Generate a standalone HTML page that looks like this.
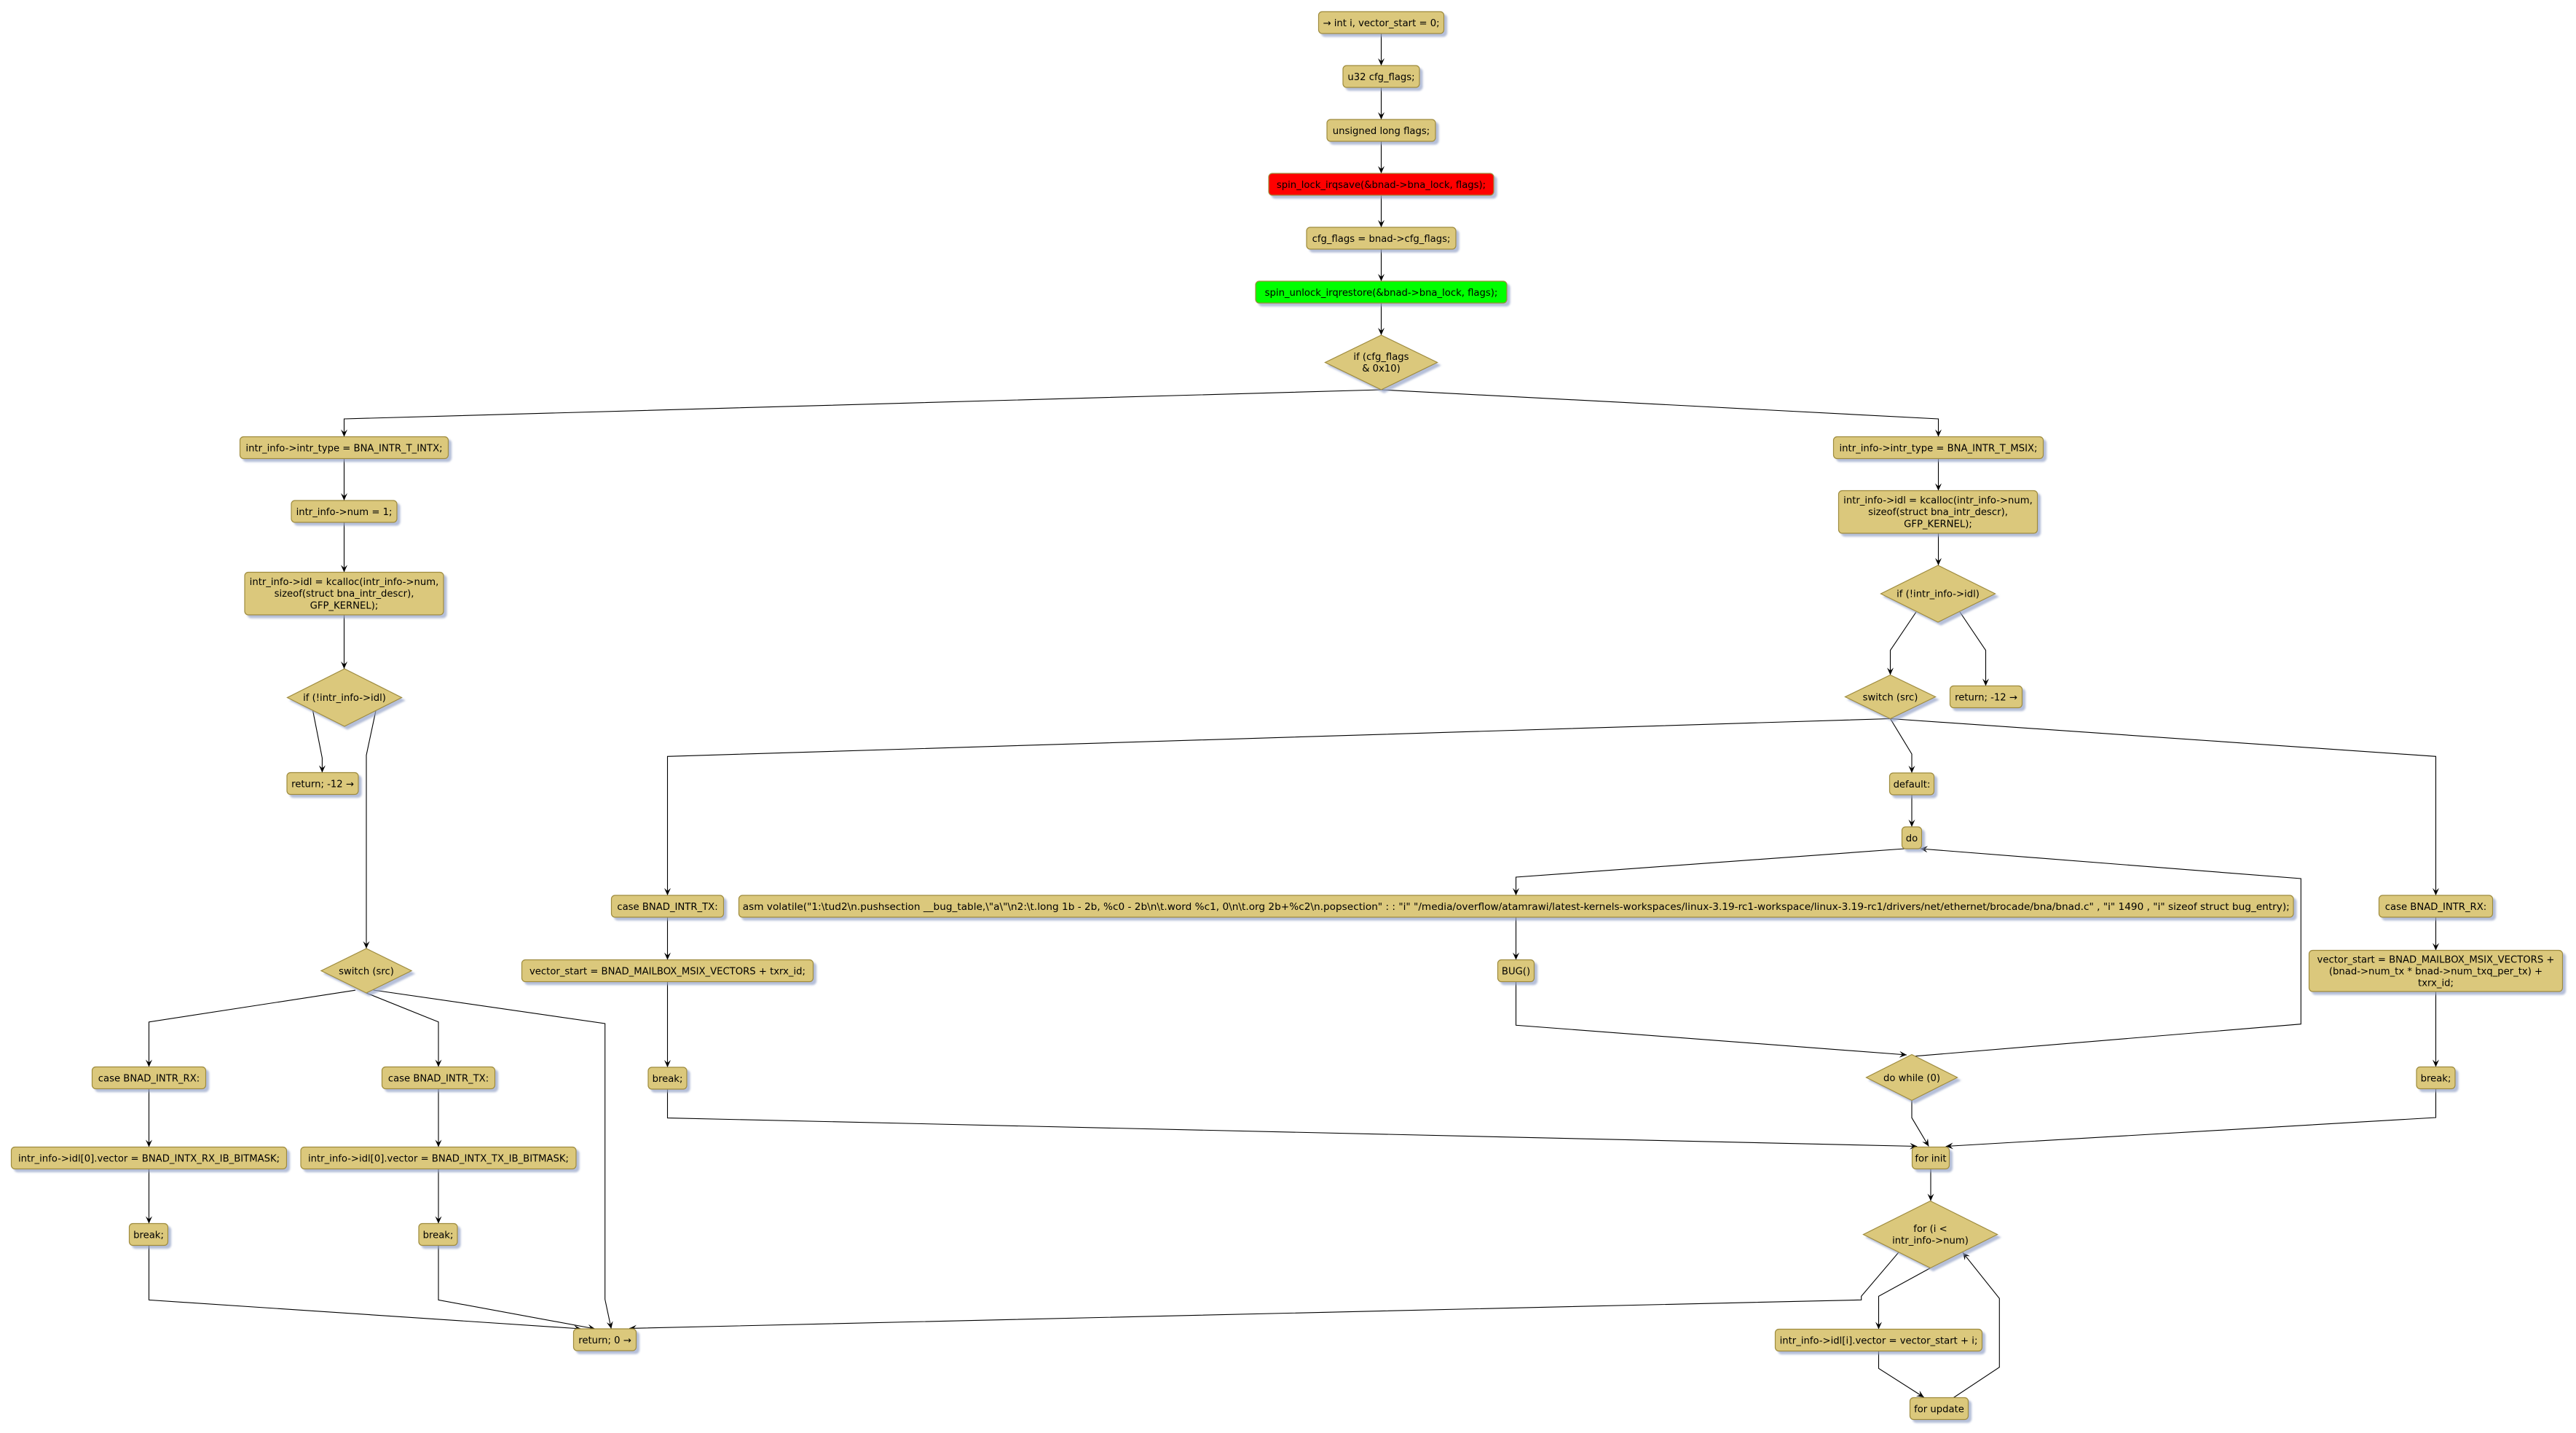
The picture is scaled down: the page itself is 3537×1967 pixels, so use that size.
<!DOCTYPE html>
<html>
<head>
<meta charset="utf-8">
<style>
html,body{margin:0;padding:0;background:#fff;}
svg{display:block;}
text{font-family:"DejaVu Sans","Liberation Sans",sans-serif;font-size:13.2px;fill:#000;}
.b{fill:#DBC87C;stroke:#9E8B3E;stroke-width:1.2;}
.r{fill:#FF0000;stroke:#9E8B3E;stroke-width:1.2;}
.g{fill:#00FF00;stroke:#9E8B3E;stroke-width:1.2;}
.l{fill:none;stroke:#000;stroke-width:1.1;marker-end:url(#a);}
</style>
</head>
<body>
<svg width="3537" height="1967" viewBox="0 0 3537 1967" xmlns="http://www.w3.org/2000/svg">
<defs>
<marker id="a" viewBox="0 0 10 9" refX="10" refY="4.5" markerWidth="10" markerHeight="9" orient="auto" markerUnits="userSpaceOnUse">
<path d="M0,0 L10,4.5 L0,9 L4,4.5 Z" fill="#000"/>
</marker>
<filter id="sh" x="-5%" y="-20%" width="115%" height="160%">
<feGaussianBlur in="SourceAlpha" stdDeviation="1.2" result="bl"/>
<feOffset in="bl" dx="4" dy="4" result="of"/>
<feFlood flood-color="#95A3C8" flood-opacity="0.7"/>
<feComposite in2="of" operator="in" result="s"/>
<feMerge><feMergeNode in="s"/><feMergeNode in="SourceGraphic"/></feMerge>
</filter>
</defs>
<rect width="3537" height="1967" fill="#fff"/>

<g>
<polyline class="l" points="1896.5,46 1896.5,90"/>
<polyline class="l" points="1896.5,120 1896.5,164"/>
<polyline class="l" points="1896.5,194 1896.5,238"/>
<polyline class="l" points="1896.5,268 1896.5,312"/>
<polyline class="l" points="1896.5,342 1896.5,386"/>
<polyline class="l" points="1896.5,416 1896.5,460"/>
<polyline class="l" points="1896.5,535 472.5,575 472.5,599.5"/>
<polyline class="l" points="1896.5,535 2661.5,575 2661.5,599.5"/>

<polyline class="l" points="472.5,629.5 472.5,687"/>
<polyline class="l" points="472.5,717 472.5,785.5"/>
<polyline class="l" points="472.5,844 472.5,918"/>
<polyline class="l" points="429.4,974.6 442.4,1040.5 442.4,1060.5"/>
<polyline class="l" points="516.2,974.6 503,1036.6 503,1302"/>
<polyline class="l" points="488,1359.2 204.5,1402.8 204.5,1464.5"/>
<polyline class="l" points="503,1363 602,1402.8 602,1464.5"/>
<polyline class="l" points="512.6,1359 830.7,1405 830.7,1783.6 839.3,1824"/>
<polyline class="l" points="204.5,1494.5 204.5,1574.5"/>
<polyline class="l" points="602,1494.5 602,1574.5"/>
<polyline class="l" points="204.5,1604.5 204.5,1679.5"/>
<polyline class="l" points="602,1604.5 602,1679.5"/>
<polyline class="l" points="204.5,1709.5 204.5,1784.4 798,1824"/>
<polyline class="l" points="602,1709.5 602,1784.4 817,1824"/>

<polyline class="l" points="2661.5,629.5 2661.5,673.5"/>
<polyline class="l" points="2661.5,732 2661.5,776"/>
<polyline class="l" points="2631,840 2595.5,892.7 2595.5,926.5"/>
<polyline class="l" points="2691,840 2726.5,892.7 2726.5,941.5"/>
<polyline class="l" points="2595.5,986.5 916.5,1038.3 916.5,1229"/>
<polyline class="l" points="2595.5,986.5 2625,1035 2625,1061"/>
<polyline class="l" points="2595.5,986.5 3344.5,1038.3 3344.5,1229"/>

<polyline class="l" points="916.5,1259 916.5,1317.5"/>
<polyline class="l" points="916.5,1347.5 916.5,1465"/>
<polyline class="l" points="916.5,1495 916.5,1534.6 2632.3,1573.5"/>

<polyline class="l" points="2625,1091 2625,1135"/>
<polyline class="l" points="2615,1165 2081.5,1204 2081.5,1229"/>
<polyline class="l" points="2081.5,1259 2081.5,1317.5"/>
<polyline class="l" points="2081.5,1347.5 2081.5,1407.3 2618,1448"/>
<polyline class="l" points="2630,1449.7 3159.3,1405.7 3159.3,1206 2636.7,1165"/>
<polyline class="l" points="2625,1510.5 2625,1534.3 2648.3,1573.5"/>

<polyline class="l" points="3344.5,1259 3344.5,1304.5"/>
<polyline class="l" points="3344.5,1361 3344.5,1464.5"/>
<polyline class="l" points="3344.5,1494.5 3344.5,1534 2671.7,1573.5"/>

<polyline class="l" points="2651,1604.5 2651,1648.5"/>
<polyline class="l" points="2650.5,1740.5 2579.5,1779.3 2579.5,1824.5"/>
<polyline class="l" points="2606.7,1719.3 2555.7,1779.3 2555.7,1784.3 864,1823.4"/>
<polyline class="l" points="2579.5,1854.5 2579.5,1878.3 2641.7,1918"/>
<polyline class="l" points="2682.3,1918.5 2745.3,1876.7 2745.3,1782.3 2695,1719.3"/>
</g>

<g filter="url(#sh)">
<rect class="b" x="1810.5" y="16" width="172" height="30" rx="5"/>
<rect class="b" x="1844" y="90" width="105" height="30" rx="5"/>
<rect class="b" x="1822" y="164" width="149" height="30" rx="5"/>
<rect class="r" x="1742" y="238" width="309" height="30" rx="5"/>
<rect class="b" x="1794" y="312" width="205" height="30" rx="5"/>
<rect class="g" x="1724" y="386" width="345" height="30" rx="5"/>
<polygon class="b" points="1896.5,460 1973.5,497.5 1896.5,535 1819.5,497.5"/>

<rect class="b" x="329.5" y="599.5" width="286" height="30" rx="5"/>
<rect class="b" x="400" y="687" width="145" height="30" rx="5"/>
<rect class="b" x="336" y="785.5" width="273" height="58.5" rx="5"/>
<polygon class="b" points="473,918 551.5,957.5 473,997 394.5,957.5"/>
<rect class="b" x="394" y="1060.5" width="98" height="30" rx="5"/>
<polygon class="b" points="503,1302 565,1332.5 503,1363 441,1332.5"/>
<rect class="b" x="126.5" y="1464.5" width="156" height="30" rx="5"/>
<rect class="b" x="524.5" y="1464.5" width="155" height="30" rx="5"/>
<rect class="b" x="15.5" y="1574.5" width="378" height="30" rx="5"/>
<rect class="b" x="413" y="1574.5" width="378" height="30" rx="5"/>
<rect class="b" x="177.5" y="1679.5" width="53" height="30" rx="5"/>
<rect class="b" x="575" y="1679.5" width="53" height="30" rx="5"/>
<rect class="b" x="787.5" y="1824" width="86" height="30" rx="5"/>

<rect class="b" x="839.5" y="1229" width="154" height="30" rx="5"/>
<rect class="b" x="716.5" y="1317.5" width="400" height="30" rx="5"/>
<rect class="b" x="890" y="1465" width="53" height="30" rx="5"/>
<rect class="b" x="1014.5" y="1229" width="2134.5" height="30" rx="5"/>
<rect class="b" x="2056.5" y="1317.5" width="50" height="30" rx="5"/>

<rect class="b" x="2517.5" y="599.5" width="288" height="30" rx="5"/>
<rect class="b" x="2524.5" y="673.5" width="273" height="58.5" rx="5"/>
<polygon class="b" points="2661,776 2739.5,815 2661,854 2582.5,815"/>
<polygon class="b" points="2595.5,926.5 2657.5,956.5 2595.5,986.5 2533.5,956.5"/>
<rect class="b" x="2677.5" y="941.5" width="99" height="30" rx="5"/>
<rect class="b" x="2594.5" y="1061" width="61" height="30" rx="5"/>
<rect class="b" x="2611.5" y="1135" width="27" height="30" rx="5"/>
<polygon class="b" points="2625,1447.5 2687.5,1479 2625,1510.5 2562.5,1479"/>
<rect class="b" x="3266.5" y="1229" width="156" height="30" rx="5"/>
<rect class="b" x="3170.5" y="1304.5" width="348" height="56.5" rx="5"/>
<rect class="b" x="3318" y="1464.5" width="53" height="30" rx="5"/>
<rect class="b" x="2625.5" y="1574.5" width="51" height="30" rx="5"/>
<polygon class="b" points="2650.5,1648.5 2742.5,1694.5 2650.5,1740.5 2558.5,1694.5"/>
<rect class="b" x="2437.5" y="1824.5" width="284" height="30" rx="5"/>
<rect class="b" x="2622.5" y="1918.5" width="80" height="30" rx="5"/>
</g>

<g text-anchor="middle">
<text x="1896.5" y="36">→ int i, vector_start = 0;</text>
<text x="1896.5" y="110">u32 cfg_flags;</text>
<text x="1896.5" y="184">unsigned long flags;</text>
<text x="1896.5" y="258">spin_lock_irqsave(&amp;bnad-&gt;bna_lock, flags);</text>
<text x="1896.5" y="332">cfg_flags = bnad-&gt;cfg_flags;</text>
<text x="1896.5" y="406">spin_unlock_irqrestore(&amp;bnad-&gt;bna_lock, flags);</text>
<text x="1896.5" y="494">if (cfg_flags</text>
<text x="1896.5" y="510">&amp; 0x10)</text>

<text x="472.5" y="619.5">intr_info-&gt;intr_type = BNA_INTR_T_INTX;</text>
<text x="472.5" y="707">intr_info-&gt;num = 1;</text>
<text x="472.5" y="802.8">intr_info-&gt;idl = kcalloc(intr_info-&gt;num,</text>
<text x="472.5" y="819.1">sizeof(struct bna_intr_descr),</text>
<text x="472.5" y="835.4">GFP_KERNEL);</text>
<text x="473" y="962">if (!intr_info-&gt;idl)</text>
<text x="443" y="1080.5">return; -12 →</text>
<text x="503" y="1337.5">switch (src)</text>
<text x="204.5" y="1484.5">case BNAD_INTR_RX:</text>
<text x="602" y="1484.5">case BNAD_INTR_TX:</text>
<text x="204.5" y="1594.5">intr_info-&gt;idl[0].vector = BNAD_INTX_RX_IB_BITMASK;</text>
<text x="602" y="1594.5">intr_info-&gt;idl[0].vector = BNAD_INTX_TX_IB_BITMASK;</text>
<text x="204" y="1699.5">break;</text>
<text x="601.5" y="1699.5">break;</text>
<text x="830.5" y="1844">return; 0 →</text>

<text x="916.5" y="1249">case BNAD_INTR_TX:</text>
<text x="916.5" y="1337.5">vector_start = BNAD_MAILBOX_MSIX_VECTORS + txrx_id;</text>
<text x="916.5" y="1485">break;</text>
<text x="2081.75" y="1249" textLength="2124" lengthAdjust="spacingAndGlyphs">asm volatile("1:\tud2\n.pushsection __bug_table,\"a\"\n2:\t.long 1b - 2b, %c0 - 2b\n\t.word %c1, 0\n\t.org 2b+%c2\n.popsection" : : "i" "/media/overflow/atamrawi/latest-kernels-workspaces/linux-3.19-rc1-workspace/linux-3.19-rc1/drivers/net/ethernet/brocade/bna/bnad.c" , "i" 1490 , "i" sizeof struct bug_entry);</text>
<text x="2081.5" y="1337.5">BUG()</text>

<text x="2661.5" y="619.5">intr_info-&gt;intr_type = BNA_INTR_T_MSIX;</text>
<text x="2661" y="690.8">intr_info-&gt;idl = kcalloc(intr_info-&gt;num,</text>
<text x="2661" y="707.1">sizeof(struct bna_intr_descr),</text>
<text x="2661" y="723.4">GFP_KERNEL);</text>
<text x="2661" y="819.5">if (!intr_info-&gt;idl)</text>
<text x="2595.5" y="961.5">switch (src)</text>
<text x="2727" y="961.5">return; -12 →</text>
<text x="2625" y="1081">default:</text>
<text x="2625" y="1155">do</text>
<text x="2625" y="1484">do while (0)</text>
<text x="3344.5" y="1249">case BNAD_INTR_RX:</text>
<text x="3344.5" y="1321.7">vector_start = BNAD_MAILBOX_MSIX_VECTORS +</text>
<text x="3344.5" y="1337.5">(bnad-&gt;num_tx * bnad-&gt;num_txq_per_tx) +</text>
<text x="3344.5" y="1353.5">txrx_id;</text>
<text x="3344.5" y="1484.5">break;</text>
<text x="2651" y="1594.5">for init</text>
<text x="2650.5" y="1691">for (i &lt;</text>
<text x="2650.5" y="1707">intr_info-&gt;num)</text>
<text x="2579.5" y="1844.5">intr_info-&gt;idl[i].vector = vector_start + i;</text>
<text x="2662.5" y="1938.5">for update</text>
</g>
</svg>
</body>
</html>
